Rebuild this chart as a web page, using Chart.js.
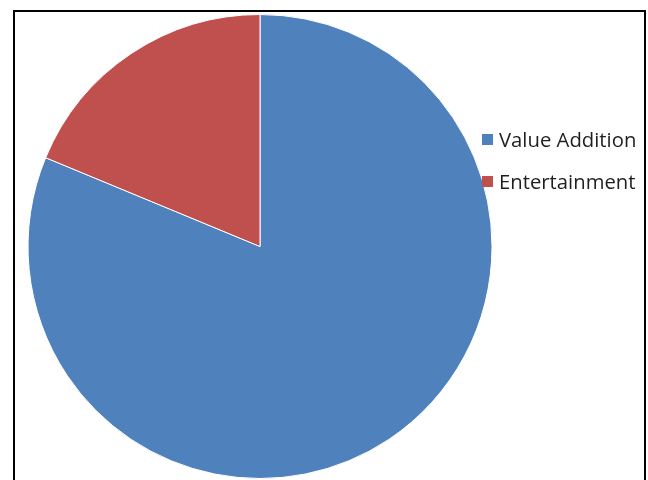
<!DOCTYPE html>
<html>
<head>
<meta charset="utf-8">
<script src="https://cdn.jsdelivr.net/npm/chart.js@4"></script>
<style>
    html, body { margin: 0; padding: 0; background: #fff; overflow: hidden; }
    #frame {
        position: absolute; left: 13px; top: 10px; width: 633px; height: 520px;
        border: 2px solid #000; box-sizing: border-box;
    }
    #wrap { position: absolute; left: 0; top: 0; width: 520px; height: 480px; }
    #legend {
        position: absolute; left: 482px; top: 126px;
        font-family: 'Open Sans', sans-serif; font-size: 20.3px; color: #1f1f1f;
    }
    .item { display: flex; align-items: center; height: 26px; margin-bottom: 16px; white-space: nowrap; }
    .box { width: 11px; height: 11px; margin-right: 6px; margin-top: 1px; }
</style>
</head>
<body>
<div id="frame"></div>
<div id="wrap"><canvas id="c-pie"></canvas></div>
<div id="legend"></div>
<script>
// === DATA ===
const labels = ['Value Addition', 'Entertainment'];
const shares = [81.25, 18.75];
const colors = ['#4F81BD', '#C0504D'];

// === PIE ===
const chart = new Chart(document.getElementById('c-pie'), {
    type: 'pie',
    data: {
        labels,
        datasets: [{
            data: shares,
            backgroundColor: colors,
            borderColor: '#fff',
            borderWidth: 1
        }]
    },
    options: {
        responsive: true,
        maintainAspectRatio: false,
        animation: false,
        layout: { padding: { top: 14, bottom: 1, left: 0, right: 0 } },
        plugins: {
            legend: { display: false },
            tooltip: { enabled: false }
        }
    }
});

// === LEGEND (built from chart labels) ===
const legendEl = document.getElementById('legend');
chart.options.plugins.legend.labels.generateLabels(chart).forEach(l => {
    const row = document.createElement('div');
    row.className = 'item';
    const box = document.createElement('span');
    box.className = 'box';
    box.style.background = l.fillStyle;
    const txt = document.createElement('span');
    txt.textContent = l.text;
    row.appendChild(box);
    row.appendChild(txt);
    legendEl.appendChild(row);
});
</script>
</body>
</html>
